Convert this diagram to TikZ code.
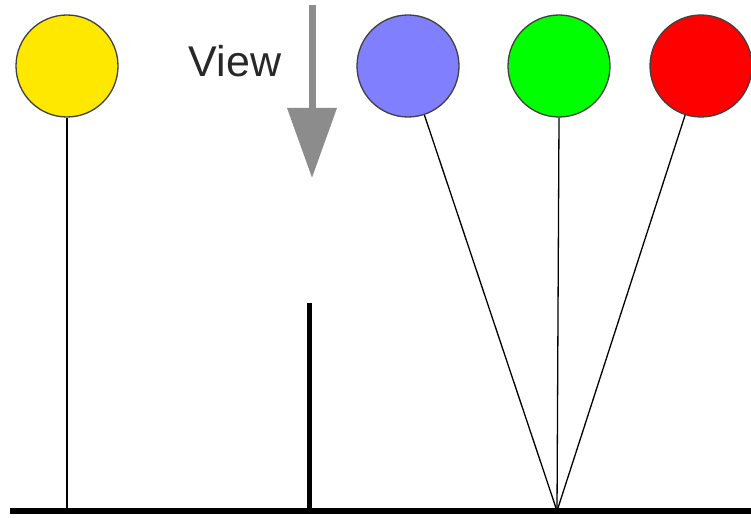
\documentclass[tikz,border=0pt]{standalone}
\usepackage{fontspec}
\setmainfont{Liberation Sans}
\usetikzlibrary{arrows.meta}
\definecolor{balloonyellow}{RGB}{255,232,0}
\definecolor{balloonblue}{RGB}{128,128,255}
\definecolor{balloongreen}{RGB}{0,255,0}
\definecolor{balloonred}{RGB}{255,0,0}
\definecolor{viewgray}{RGB}{140,140,140}
\definecolor{textgray}{RGB}{40,40,40}
\tikzset{
  balloon/.style={circle, draw=black!75, line width=1.3pt, minimum size=102pt, inner sep=0pt},
  string/.style={draw=black, line width=1.3pt},
  ground/.style={draw=black, line width=6pt},
  pole/.style={draw=black, line width=5pt},
}
\begin{document}
\begin{tikzpicture}[x=1pt, y=-1pt]
  \useasboundingbox (0,0) rectangle (751,518);
  \fill[white] (0,0) rectangle (751,518);

  % anchor points on the ground
  \coordinate (gl) at (10,511);
  \coordinate (gr) at (751,511);
  \coordinate (ya) at (67,511);
  \coordinate (pb) at (309,511);
  \coordinate (pt) at (309,303);
  \coordinate (knot) at (557,511);

  % balloons
  \node[balloon, fill=balloonyellow] (yellow) at (67,66) {};
  \node[balloon, fill=balloonblue] (blue) at (408,66) {};
  \node[balloon, fill=balloongreen] (green) at (559,66) {};
  \node[balloon, fill=balloonred] (red) at (701,66) {};

  % strings
  \draw[string] (yellow.south) -- (ya);
  \draw[string] (blue) -- (knot);
  \draw[string] (green.south) -- (knot);
  \draw[string] (red) -- (knot);

  % pole and ground
  \draw[pole] (pb) -- (pt);
  \draw[ground] (gl) -- (gr);

  % viewing direction
  \coordinate (vtop) at (312,5);
  \coordinate (vtip) at (312,178);
  \draw[viewgray, line width=7pt, -{Triangle[length=70pt, width=48pt]}] (vtop) -- (vtip);
  \node[text=textgray, font=\fontsize{43}{47}\selectfont, anchor=center] (view) at (235,61) {View};
\end{tikzpicture}
\end{document}
